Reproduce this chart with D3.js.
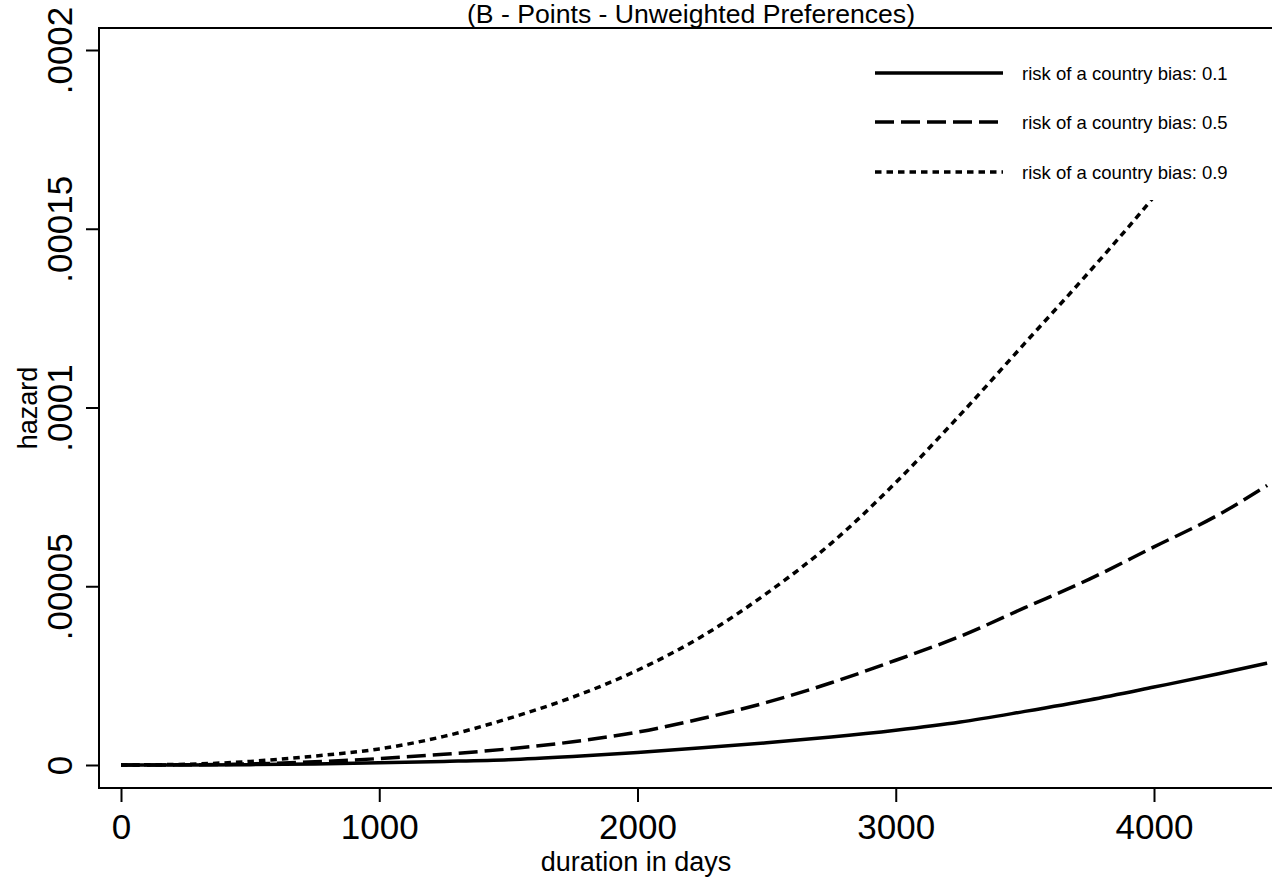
<!DOCTYPE html>
<html>
<head>
<meta charset="utf-8">
<script src="https://cdn.jsdelivr.net/npm/d3@7"></script>
<style>
  body { margin: 0; background: #fff; }
  text { font-family: "Liberation Sans", Arial, sans-serif; fill: #000; }
</style>
</head>
<body>
<svg width="1272" height="881"></svg>
<script>
// duration in days (x) and hazard estimates
let days = [0, 250, 500, 750, 1000, 1250, 1500, 1750, 2000, 2250, 2500, 2750, 3000, 3250, 3500, 3750, 4000, 4250, 4438];
let hazard01 = [0, 0.002e-5, 0.01e-5, 0.03e-5, 0.06e-5, 0.1e-5, 0.15e-5, 0.24e-5, 0.35e-5, 0.48e-5, 0.62e-5, 0.78e-5, 0.97e-5, 1.2e-5, 1.5e-5, 1.82e-5, 2.18e-5, 2.55e-5, 2.85e-5];
let hazard05 = [0, 0.005e-5, 0.03e-5, 0.09e-5, 0.18e-5, 0.3e-5, 0.45e-5, 0.65e-5, 0.92e-5, 1.3e-5, 1.75e-5, 2.3e-5, 2.93e-5, 3.6e-5, 4.4e-5, 5.2e-5, 6.1e-5, 7.0e-5, 7.82e-5];
let hazard09 = [0, 0.02e-5, 0.1e-5, 0.25e-5, 0.45e-5, 0.8e-5, 1.3e-5, 1.9e-5, 2.65e-5, 3.6e-5, 4.8e-5, 6.2e-5, 7.9e-5, 9.8e-5, 11.8e-5, 13.8e-5, 15.9e-5, 18.2e-5, 20.0e-5];

let xTicks = [0, 1000, 2000, 3000, 4000];
let yTicks = [0, 0.00005, 0.0001, 0.00015, 0.0002];
let yTickLabels = ["0", ".00005", ".0001", ".00015", ".0002"];
let seriesNames = ["risk of a country bias: 0.1", "risk of a country bias: 0.5", "risk of a country bias: 0.9"];

let svg = d3.select("svg"),
    width = +svg.attr("width"),
    height = +svg.attr("height");

let frame = {left: 99, top: 28, bottom: 788, right: width};

let x = d3.scaleLinear().domain([0, 4000]).range([121, 1154]);
let y = d3.scaleLinear().domain([0, 0.0002]).range([765, 50]);

let dashes = ["none", "19,7", "6.5,5"];
let series = [hazard01, hazard05, hazard09];

// clip for the plot region
svg.append("clipPath").attr("id", "plotclip")
  .append("rect")
    .attr("x", frame.left).attr("y", frame.top)
    .attr("width", frame.right - frame.left).attr("height", frame.bottom - frame.top);

let line = d3.line()
    .curve(d3.curveMonotoneX)
    .x(function(d) { return x(d[0]); })
    .y(function(d) { return y(d[1]); });

svg.append("g").attr("clip-path", "url(#plotclip)")
  .selectAll("path")
  .data(series)
  .enter().append("path")
    .attr("d", function(s) { return line(days.map(function(t, i) { return [t, s[i]]; })); })
    .attr("fill", "none")
    .attr("stroke", "#000")
    .attr("stroke-width", 3.5)
    .attr("stroke-dasharray", function(s, i) { return dashes[i]; });

// legend (white box sits over the curves)
let legend = svg.append("g");
legend.append("rect")
    .attr("x", 858).attr("y", 48)
    .attr("width", 414).attr("height", 152)
    .attr("fill", "#fff");

let legendY = [73, 122, 172];
seriesNames.forEach(function(name, i) {
  legend.append("line")
      .attr("x1", 875).attr("x2", 1003)
      .attr("y1", legendY[i]).attr("y2", legendY[i])
      .attr("stroke", "#000")
      .attr("stroke-width", 3.5)
      .attr("stroke-dasharray", dashes[i]);
  legend.append("text")
      .attr("x", 1022).attr("y", legendY[i] + 7)
      .style("font-size", "18.5px")
      .text(name);
});

// axes
let xAxis = d3.axisBottom(x).tickValues(xTicks).tickSize(14).tickPadding(12)
    .tickFormat(d3.format("d"));
let gx = svg.append("g").attr("transform", "translate(0," + frame.bottom + ")").call(xAxis);
gx.select(".domain").remove();
gx.selectAll("line").attr("stroke-width", 2);
gx.selectAll("text").style("font-size", "35px").style("font-family", "\"Liberation Sans\", Arial, sans-serif");

let yAxis = d3.axisLeft(y).tickValues(yTicks).tickSize(13)
    .tickFormat(function(d, i) { return yTickLabels[i]; });
let gy = svg.append("g").attr("transform", "translate(" + frame.left + ",0)").call(yAxis);
gy.select(".domain").remove();
gy.selectAll("line").attr("stroke-width", 2);
gy.selectAll("text")
    .attr("x", null).attr("dy", null)
    .attr("text-anchor", "middle")
    .attr("transform", "translate(-27,0) rotate(-90)")
    .style("font-size", "35px")
    .style("font-family", "\"Liberation Sans\", Arial, sans-serif");

// frame lines
svg.append("path")
    .attr("d", "M" + frame.right + "," + frame.top + "H" + frame.left + "V" + frame.bottom + "H" + frame.right)
    .attr("fill", "none")
    .attr("stroke", "#000")
    .attr("stroke-width", 2);

// titles
svg.append("text")
    .attr("x", 691).attr("y", 23)
    .attr("text-anchor", "middle")
    .attr("textLength", 448)
    .attr("lengthAdjust", "spacingAndGlyphs")
    .style("font-size", "25px")
    .text("(B - Points - Unweighted Preferences)");

svg.append("text")
    .attr("x", 636).attr("y", 871)
    .attr("text-anchor", "middle")
    .style("font-size", "27px")
    .text("duration in days");

svg.append("text")
    .attr("transform", "translate(37,408) rotate(-90)")
    .attr("text-anchor", "middle")
    .style("font-size", "27px")
    .text("hazard");
</script>
</body>
</html>
